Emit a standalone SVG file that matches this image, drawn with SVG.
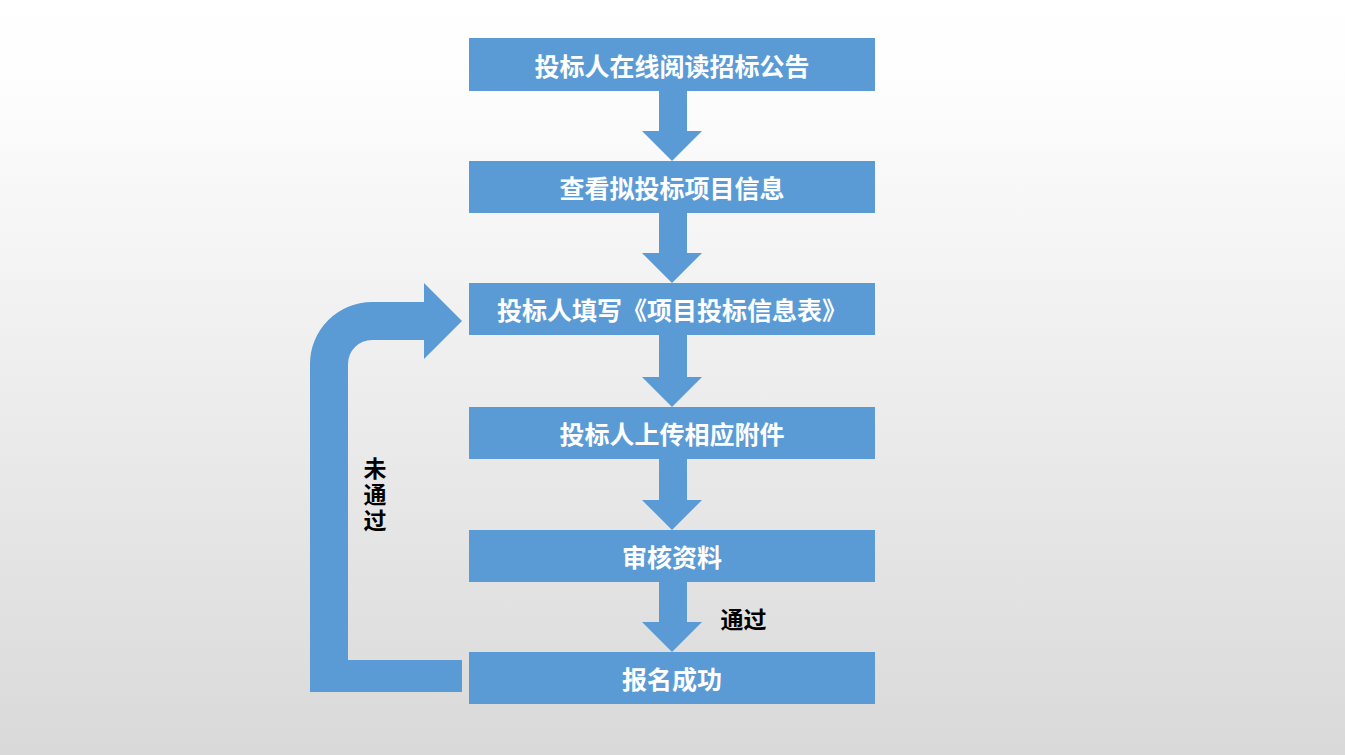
<svg xmlns="http://www.w3.org/2000/svg" width="1345" height="755" viewBox="0 0 1345 755">
  <defs>
    <linearGradient id="bg" x1="0" y1="0" x2="0" y2="1">
      <stop offset="0" stop-color="#ffffff"/>
      <stop offset="0.12" stop-color="#fdfdfd"/>
      <stop offset="1" stop-color="#d9d9d9"/>
    </linearGradient>
  </defs>
  <style>
    .box { fill: #5B9BD5; }
    .arr { fill: #5B9BD5; }
    .t { font-family: "Noto Sans CJK SC", "Noto Sans", sans-serif; font-weight: bold; font-size: 25px; fill: #ffffff; text-anchor: middle; dominant-baseline: central; }
    .lbl { font-family: "Noto Sans CJK SC", "Noto Sans", sans-serif; font-weight: bold; font-size: 23px; fill: #000000; text-anchor: middle; dominant-baseline: central; }
    .vlbl { font-family: "Noto Sans CJK SC", "Noto Sans", sans-serif; font-weight: bold; font-size: 23px; fill: #000000; text-anchor: middle; writing-mode: vertical-rl; letter-spacing: 3px; }
  </style>
  <rect x="0" y="0" width="1345" height="755" fill="url(#bg)"/>
  <g id="connectors">
    <polygon class="arr" points="659,91 687,91 687,131 702,131 672,161 642,131 659,131"/>
    <polygon class="arr" points="659,213 687,213 687,253 702,253 672,283 642,253 659,253"/>
    <polygon class="arr" points="659,335 687,335 687,377 702,377 672,407 642,377 659,377"/>
    <polygon class="arr" points="659,459 687,459 687,500 702,500 672,530 642,500 659,500"/>
    <polygon class="arr" points="659,582 687,582 687,622 702,622 672,652 642,622 659,622"/>
    <path class="arr" d="M310 692 L462 692 L462 660 L348 660 L348 364 A24 24 0 0 1 372 340 L424 340 L424 359 L462 321 L424 283 L424 302 L372 302 A62 62 0 0 0 310 364 Z"/>
    <text class="lbl" x="743.5" y="618">通过</text>
    <text class="vlbl" x="375" y="495.5">未通过</text>
  </g>
  <g id="n1"><rect class="box" x="469" y="38" width="406" height="53"/><text class="t" x="672" y="65">投标人在线阅读招标公告</text></g>
  <g id="n2"><rect class="box" x="469" y="161" width="406" height="52"/><text class="t" x="672" y="187">查看拟投标项目信息</text></g>
  <g id="n3"><rect class="box" x="469" y="283" width="406" height="52"/><text class="t" x="672" y="309">投标人填写《项目投标信息表》</text></g>
  <g id="n4"><rect class="box" x="469" y="407" width="406" height="52"/><text class="t" x="672" y="433">投标人上传相应附件</text></g>
  <g id="n5"><rect class="box" x="469" y="530" width="406" height="52"/><text class="t" x="672" y="556">审核资料</text></g>
  <g id="n6"><rect class="box" x="469" y="652" width="406" height="52"/><text class="t" x="672" y="678">报名成功</text></g>
</svg>
